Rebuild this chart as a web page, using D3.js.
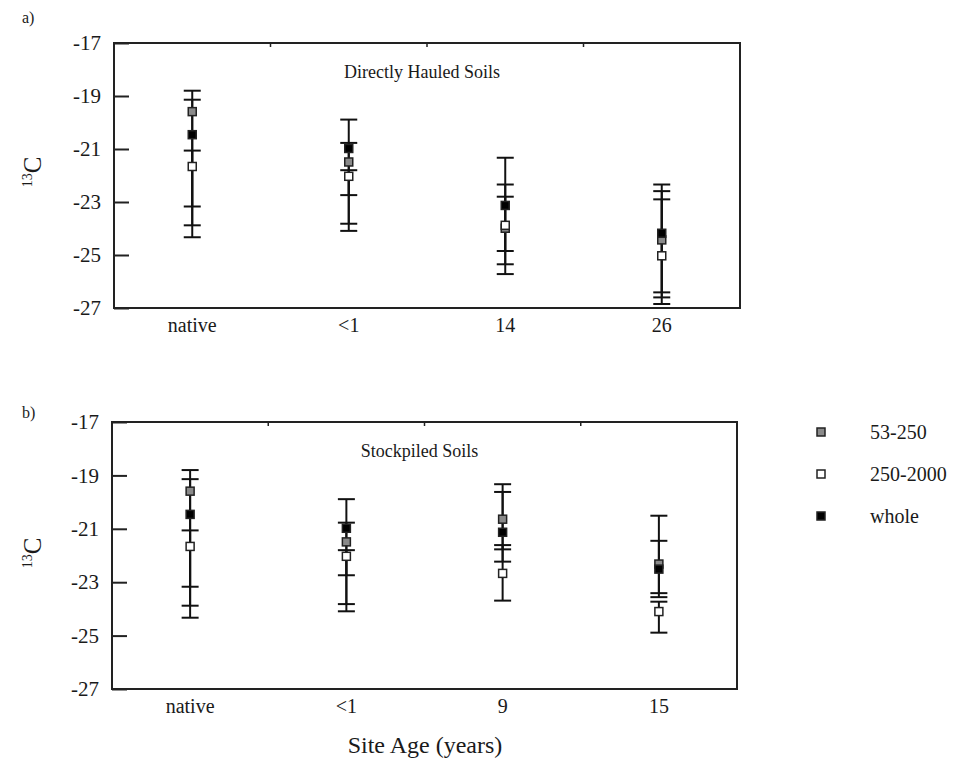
<!DOCTYPE html>
<html><head><meta charset="utf-8">
<script src="https://cdn.jsdelivr.net/npm/d3@7"></script>
<style>
body{margin:0;background:#fff;}
text{font-family:"Liberation Serif","Times New Roman",serif;fill:#1a1a1a;}
</style></head>
<body><svg id="c" width="970" height="769"></svg>
<script>
// ---------- data ----------
const seriesNames = ["53-250", "250-2000", "whole"];
const yTicks = [-17, -19, -21, -23, -25, -27];

// panel a: Directly Hauled Soils
const catsA = ["native", "<1", "14", "26"];
const a_53_250   = [-19.59, -21.49, -23.99, -24.43];
const a_250_2000 = [-21.66, -22.03, -23.88, -25.03];
const a_whole    = [-20.46, -20.98, -23.13, -24.18];
const a_53_250_hi   = [-18.80, -19.89, -21.33, -22.34];
const a_53_250_lo   = [-23.17, -22.74, -24.85, -26.41];
const a_250_2000_hi = [-21.06, -21.80, -22.80, -22.90];
const a_250_2000_lo = [-24.33, -24.09, -25.72, -26.85];
const a_whole_hi    = [-19.14, -20.77, -22.34, -22.59];
const a_whole_lo    = [-23.88, -23.82, -25.35, -26.60];

// panel b: Stockpiled Soils
const catsB = ["native", "<1", "9", "15"];
const b_53_250   = [-19.59, -21.49, -20.64, -22.32];
const b_250_2000 = [-21.66, -22.03, -22.67, -24.10];
const b_whole    = [-20.46, -20.98, -21.13, -22.51];
const b_53_250_hi   = [-18.80, -19.89, -19.33, -20.51];
const b_53_250_lo   = [-23.17, -22.74, -21.77, -23.41];
const b_250_2000_hi = [-21.06, -21.80, -21.61, -23.73];
const b_250_2000_lo = [-24.33, -24.09, -23.69, -24.89];
const b_whole_hi    = [-19.14, -20.77, -19.62, -21.45];
const b_whole_lo    = [-23.88, -23.82, -22.23, -23.56];

// ---------- styles ----------
const fills = {"53-250": "#8a8a8a", "250-2000": "#ffffff", "whole": "#000000"};
const drawOrder = ["53-250", "250-2000", "whole"];

const svg = d3.select("#c");

function panel(cfg) {
  const {x0, x1, y0, y1, cats, means, his, los, title, titleY, letter, letterY, ylabY} = cfg;
  const x = d3.scaleBand().domain(cats).range([x0, x1]).padding(0);
  const y = d3.scaleLinear().domain([-17, -27]).range([y0, y1]);
  const g = svg.append("g");

  // left axis, inward ticks
  const ax = d3.axisLeft(y).tickValues(yTicks).tickFormat(d => String(d)).tickSize(-15).tickPadding(13);
  const ag = g.append("g").attr("transform", `translate(${x0},0)`).call(ax);
  ag.select(".domain").remove();
  ag.selectAll("line").attr("stroke", "#222").attr("stroke-width", 2);
  ag.selectAll("text").attr("font-size", 21).style("font-family", '"Liberation Serif",serif').attr("fill", "#1a1a1a");

  // bottom category labels
  const bx = d3.axisBottom(x).tickSize(0).tickPadding(10);
  const bg = g.append("g").attr("transform", `translate(0,${y1})`).call(bx);
  bg.select(".domain").remove();
  bg.selectAll("text").attr("font-size", 20).style("font-family", '"Liberation Serif",serif').attr("fill", "#1a1a1a");

  // top small ticks at category boundaries
  g.selectAll(".tt").data(cats.slice(1)).enter().append("line")
    .attr("x1", d => x(d)).attr("x2", d => x(d))
    .attr("y1", y0).attr("y2", y0 + 4)
    .attr("stroke", "#222").attr("stroke-width", 1.5);

  // frame
  g.append("rect").attr("x", x0).attr("y", y0).attr("width", x1 - x0).attr("height", y1 - y0)
    .attr("fill", "none").attr("stroke", "#222").attr("stroke-width", 2);

  // title
  g.append("text").attr("x", (x0 + x1) / 2 - 5).attr("y", titleY).attr("text-anchor", "middle")
    .attr("font-size", 18).text(title);

  // panel letter
  g.append("text").attr("x", 22).attr("y", letterY).attr("font-size", 16).text(letter);

  // y label 13C
  const yl = g.append("text").attr("transform", `translate(41,${ylabY}) rotate(-90)`)
    .attr("text-anchor", "middle");
  yl.append("tspan").attr("font-size", 14).attr("dy", -9).text("13");
  yl.append("tspan").attr("font-size", 25).attr("dy", 9).text("C");

  // error bars
  const cw = 8.5;
  drawOrder.forEach(s => {
    const rows = cats.map((c, i) => ({c, hi: his[s][i], lo: los[s][i]}));
    g.selectAll(null).data(rows).enter().append("line")
      .attr("x1", d => x(d.c) + x.bandwidth() / 2).attr("x2", d => x(d.c) + x.bandwidth() / 2)
      .attr("y1", d => y(d.hi)).attr("y2", d => y(d.lo))
      .attr("stroke", "#111").attr("stroke-width", 2);
    ["hi", "lo"].forEach(k => {
      g.selectAll(null).data(rows).enter().append("line")
        .attr("x1", d => x(d.c) + x.bandwidth() / 2 - cw).attr("x2", d => x(d.c) + x.bandwidth() / 2 + cw)
        .attr("y1", d => y(d[k])).attr("y2", d => y(d[k]))
        .attr("stroke", "#111").attr("stroke-width", 2);
    });
  });
  // markers
  const ms = 8;
  drawOrder.forEach(s => {
    g.selectAll(null).data(cats.map((c, i) => ({c, v: means[s][i]}))).enter().append("rect")
      .attr("x", d => x(d.c) + x.bandwidth() / 2 - ms / 2)
      .attr("y", d => y(d.v) - ms / 2)
      .attr("width", ms).attr("height", ms)
      .attr("fill", fills[s]).attr("stroke", "#222").attr("stroke-width", 1.5);
  });
}

panel({
  x0: 114, x1: 740, y0: 43, y1: 308, cats: catsA,
  means: {"53-250": a_53_250, "250-2000": a_250_2000, "whole": a_whole},
  his: {"53-250": a_53_250_hi, "250-2000": a_250_2000_hi, "whole": a_whole_hi},
  los: {"53-250": a_53_250_lo, "250-2000": a_250_2000_lo, "whole": a_whole_lo},
  title: "Directly Hauled Soils", titleY: 78, letter: "a)", letterY: 23, ylabY: 172
});
panel({
  x0: 112, x1: 737, y0: 422, y1: 689, cats: catsB,
  means: {"53-250": b_53_250, "250-2000": b_250_2000, "whole": b_whole},
  his: {"53-250": b_53_250_hi, "250-2000": b_250_2000_hi, "whole": b_whole_hi},
  los: {"53-250": b_53_250_lo, "250-2000": b_250_2000_lo, "whole": b_whole_lo},
  title: "Stockpiled Soils", titleY: 457, letter: "b)", letterY: 418, ylabY: 553
});

// x axis title
svg.append("text").attr("x", 425).attr("y", 753).attr("text-anchor", "middle")
  .attr("font-size", 24).text("Site Age (years)");

// legend
const legY = d3.scalePoint().domain(seriesNames).range([432, 516]);
const lg = svg.append("g");
lg.selectAll("rect").data(seriesNames).enter().append("rect")
  .attr("x", 817).attr("y", d => legY(d) - 4).attr("width", 8).attr("height", 8)
  .attr("fill", d => fills[d]).attr("stroke", "#222").attr("stroke-width", 1.5);
lg.selectAll("text").data(seriesNames).enter().append("text")
  .attr("x", 870).attr("y", d => legY(d) + 7).attr("font-size", 20).text(d => d);
</script></body></html>
